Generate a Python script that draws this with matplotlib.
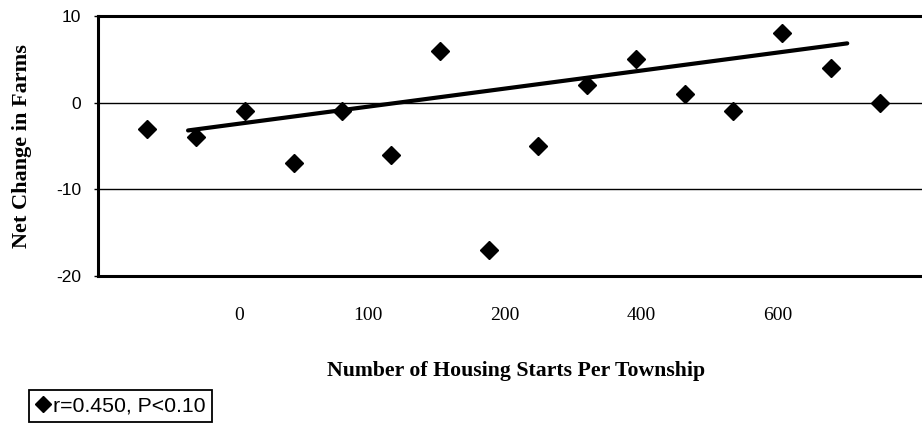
import matplotlib
matplotlib.use('Agg')
import matplotlib.pyplot as plt
from matplotlib.lines import Line2D

# Net change in farms, one point per township (in plotted order)
net_change = [-3, -4, -1, -7, -1, -6, 6, -17, -5, 2, 5, 1, -1, 8, 4, 0]
township = list(range(len(net_change)))

# trend line end points
trend_x = [0.84, 14.33]
trend_y = [-3.2, 6.85]

# axis labels
x_labels = ['0', '100', '200', '400', '600']
x_label_pos = [1.88, 4.52, 7.32, 10.12, 12.9]
y_ticks = [-20, -10, 0, 10]

fig = plt.figure(figsize=(9.22, 4.23), dpi=100)
ax = fig.add_axes([0.1063, 0.3475, 0.8937, 0.6145])

# grid lines at 0 and -10
for yv in [0, -10]:
    ax.axhline(yv, color='black', linewidth=1.0, zorder=1)

ax.plot(township, net_change, linestyle='none', marker='D', color='black',
        markersize=9, zorder=3)
ax.plot(trend_x, trend_y, color='black', linewidth=3, solid_capstyle='round', zorder=2)

ax.set_xlim(-1.003, 15.86)
ax.set_ylim(-20, 10)

ax.spines['right'].set_visible(False)
for s in ['left', 'top', 'bottom']:
    ax.spines[s].set_linewidth(2.2)

ax.set_yticks(y_ticks)
ax.set_yticklabels([str(v) for v in y_ticks], fontfamily='Liberation Sans', fontsize=12.5)
ax.tick_params(axis='y', length=3, width=1, pad=9)

ax.set_xticks(x_label_pos)
ax.set_xticklabels(x_labels, fontfamily='Liberation Serif', fontsize=14)
ax.tick_params(axis='x', length=0, pad=22)

ax.set_ylabel('Net Change in Farms', fontfamily='Liberation Serif', fontweight='bold',
              fontsize=16, va='center')
ax.yaxis.set_label_coords(-0.092, 0.5)
ax.set_xlabel('Number of Housing Starts Per Township', fontfamily='Liberation Serif',
              fontweight='bold', fontsize=15.7, va='center')
ax.xaxis.set_label_coords(0.507, -0.365)

handle = Line2D([], [], marker='D', color='black', linestyle='none', markersize=8)
leg = fig.legend(handles=[handle], labels=['r=0.450, P<0.10'], loc='lower left',
                 bbox_to_anchor=(0.0315, 0.003), frameon=True, fancybox=False,
                 edgecolor='black', framealpha=1, handlelength=0.7, handletextpad=0.15,
                 borderpad=0.3, borderaxespad=0,
                 prop={'family': 'Liberation Sans', 'size': 15.3})
leg.get_frame().set_linewidth(1.3)

fig.savefig('out.png', dpi=100)
